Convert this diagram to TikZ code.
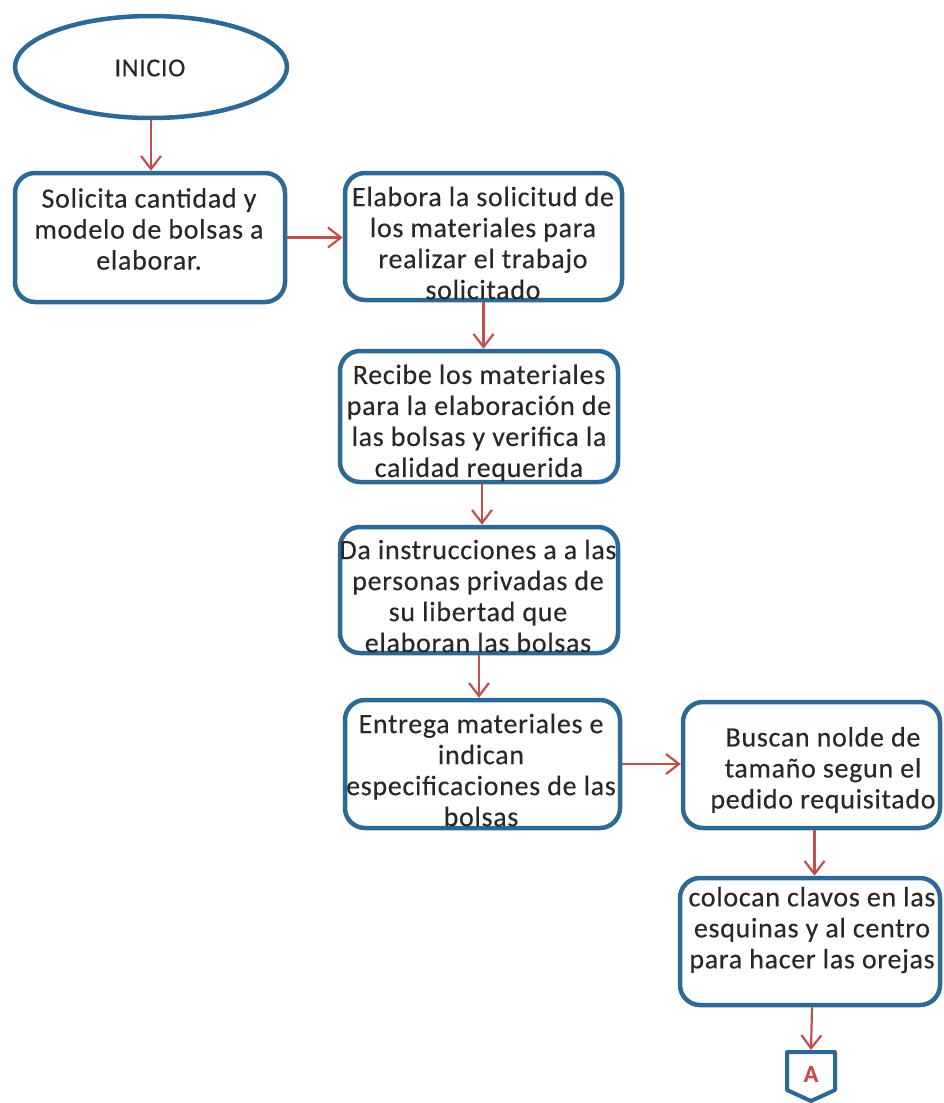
\documentclass[tikz,border=0pt]{standalone}
\usepackage{fontspec}
\setmainfont{Carlito}[LetterSpace=2.5,FakeBold=0.3]
\usetikzlibrary{arrows.meta,shapes.geometric}
\definecolor{boxblue}{RGB}{46,104,148}
\definecolor{arrred}{RGB}{192,80,77}
\definecolor{txt}{RGB}{40,40,40}
\tikzset{
  procbox/.style={draw=boxblue, line width=4.5pt, rounded corners=20pt, rectangle, inner sep=0pt},
  startell/.style={draw=boxblue, line width=4.5pt, ellipse, inner sep=0pt},
  boxtext/.style={text=txt, align=center, font=\fontsize{28}{31}\selectfont, inner sep=0pt},
  flow/.style={draw=arrred, line width=2.2pt, -{Straight Barb[length=13pt,width=20pt,line width=2.2pt]}},
}
\begin{document}
\begin{tikzpicture}[x=1pt,y=-1pt]
\useasboundingbox (0,0) rectangle (944,1103);
% shapes
\node[startell, minimum width=272pt, minimum height=102pt] (e) at (151,67) {};
\node[text=txt, font=\fontsize{26}{28}\selectfont] (tinicio) at (150,68) {INICIO};
\node[procbox, minimum width=270pt, minimum height=129pt] (b1) at (150,237.5) {};
\node[procbox, minimum width=277pt, minimum height=127pt] (b2) at (483.5,236.5) {};
\node[procbox, minimum width=278pt, minimum height=131pt] (b3) at (479,416.5) {};
\node[procbox, minimum width=278pt, minimum height=126pt] (b4) at (479,590) {};
\node[procbox, minimum width=275pt, minimum height=128pt] (b5) at (482.5,764) {};
\node[procbox, minimum width=257pt, minimum height=126pt] (b6) at (811.5,765) {};
\node[procbox, minimum width=260pt, minimum height=127pt] (b7) at (810,941.5) {};
% texts
\node[boxtext] (t1) at (149,229) {Solicita cantidad y\\modelo de bolsas a\\elaborar.};
\node[boxtext] (t2) at (483,243) {Elabora la solicitud de\\los materiales para\\realizar el trabajo\\solicitado};
\node[boxtext] (t3) at (479,423) {Recibe los materiales\\para la elaboración de\\las bolsas y verifica la\\calidad requerida};
\node[boxtext] (t4) at (478,596) {Da instrucciones a a las\\personas privadas de\\su libertad que\\elaboran las bolsas};
\node[boxtext] (t5) at (481,770) {Entrega materiales e\\indican\\especificaciones de las\\bolsas};
\node[boxtext] (t6) at (823,770) {Buscan nolde de\\tamaño segun el\\pedido requisitado};
\node[boxtext] (t7) at (812,930) {colocan clavos en las\\esquinas y al centro\\para hacer las orejas};
% off-page connector A
\draw[draw=boxblue, line width=4pt, line join=round] (787,1052) -- (835,1052) -- (835,1090) -- (811,1101) -- (787,1090) -- cycle;
\coordinate (atop) at (811,1050);
\node[text=arrred, font=\fontsize{24}{26}\bfseries\selectfont] (A) at (811,1074) {A};
% connectors
\draw[flow] (e.south) -- (e.south |- b1.north);
\draw[flow] (b1.east) -- (b2.west |- b1.east);
\draw[flow] (b2.south) -- (b2.south |- b3.north);
\draw[flow] ([xshift=3pt]b3.south) -- ([xshift=3pt]b3.south |- b4.north);
\draw[flow] (b4.south) -- (b4.south |- b5.north);
\draw[flow] (b5.east) -- (b6.west |- b5.east);
\draw[flow] ([xshift=3pt]b6.south) -- ([xshift=3pt]b6.south |- b7.north);
\draw[flow] ([xshift=2pt]b7.south) -- (atop);
\end{tikzpicture}
\end{document}
